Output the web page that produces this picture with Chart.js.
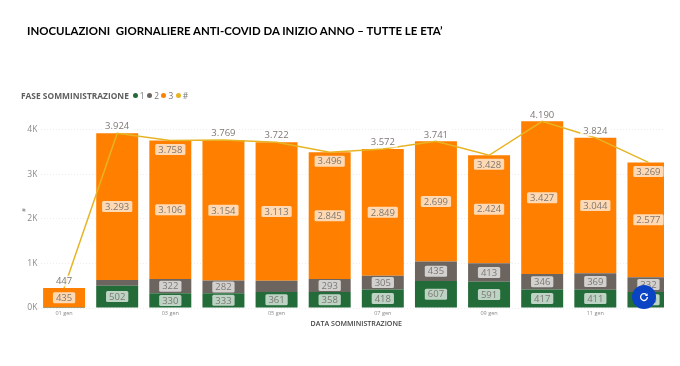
<!DOCTYPE html>
<html>
<head>
<meta charset="utf-8">
<script src="https://cdn.jsdelivr.net/npm/chart.js@4/dist/chart.umd.min.js"></script>
<style>
    html, body { margin: 0; padding: 0; background: #fff; width: 680px; height: 366px; overflow: hidden; }
    #title { position: absolute; left: 27px; top: 24px; font: 700 11.45px Lato, sans-serif; color: #000; white-space: pre; }
    #legend { position: absolute; left: 21px; top: 90px; font: 8.4px "Open Sans", sans-serif; color: #777; white-space: nowrap; }
    #legend b { color: #5f5f5f; margin-right: 4px; }
    #legend span { margin-right: 2.5px; }
    #legend i { display: inline-block; width: 5px; height: 5px; border-radius: 50%; margin-right: 2px; vertical-align: 1px; }
    #wrap { position: absolute; left: 0; top: 0; width: 664px; height: 366px; overflow: hidden; }
    #wrap canvas { filter: blur(0.35px); }
    #refresh { position: absolute; left: 632px; top: 285px; width: 24px; height: 24px; border-radius: 50%; background: #0a43c4; }
</style>
</head>
<body>
<div id="wrap"><div style="width:675px;height:366px"><canvas id="chart" width="675" height="366"></canvas></div></div>
<div id="title">INOCULAZIONI  GIORNALIERE ANTI-COVID DA INIZIO ANNO – TUTTE LE ETA’</div>
<div id="legend"></div>
<div id="refresh">
    <svg width="24" height="24" viewBox="0 0 24 24">
        <path d="M14.6 9.9 A3.4 3.4 0 1 0 15.4 12" fill="none" stroke="#fff" stroke-width="1.3"/>
        <path d="M15.6 8.2 V11 H12.8 Z" fill="#fff"/>
    </svg>
</div>

<script>
const days = ['01 gen', '02 gen', '03 gen', '04 gen', '05 gen', '06 gen', '07 gen', '08 gen', '09 gen', '10 gen', '11 gen', '12 gen'];
const fase1 = [5, 502, 330, 333, 361, 358, 418, 607, 591, 417, 411, 360];
const fase2 = [7, 129, 322, 282, 248, 293, 305, 435, 413, 346, 369, 332];
const fase3 = [435, 3293, 3106, 3154, 3113, 2845, 2849, 2699, 2424, 3427, 3044, 2577];
const totale = [447, 3924, 3758, 3769, 3722, 3496, 3572, 3741, 3428, 4190, 3824, 3269];
const yTicks = [0, 1000, 2000, 3000, 4000];

const green = '#236b38';
const grey = '#6c655f';
const orange = '#ff8000';
const yellow = '#e6b423';

// Same dot legend as the report, title first
const legend = document.getElementById('legend');
legend.innerHTML = '<b>FASE SOMMINISTRAZIONE</b>' +
    [['1', green], ['2', grey], ['3', orange], ['#', yellow]]
        .map(l => `<span><i style="background:${l[1]}"></i>${l[0]}</span>`).join('');

function formatIt(v) {
    return String(v).replace(/\B(?=(\d{3})+$)/g, '.');
}

function pill(ctx, text, x, y, bg) {
    ctx.font = '9.5px "Open Sans", sans-serif';
    ctx.textAlign = 'center';
    ctx.textBaseline = 'middle';
    const w = ctx.measureText(text).width + 6;
    ctx.fillStyle = bg;
    ctx.beginPath();
    ctx.roundRect(x - w / 2, y - 5.5, w, 11, 1.5);
    ctx.fill();
    ctx.fillStyle = '#7d7873';
    ctx.fillText(text, x, y + 0.5);
}

// Chart.js has no data labels of its own
const labelPlugin = {
    id: 'labels',
    afterDatasetsDraw(chart) {
        const ctx = chart.ctx;
        ctx.save();
        [0, 1, 2].forEach(d => {
            chart.getDatasetMeta(d).data.forEach((bar, i) => {
                const value = chart.data.datasets[d].data[i];
                if (value < 250) return; // segment too thin for a label
                pill(ctx, formatIt(value), bar.x, (bar.y + bar.base) / 2, 'rgba(255,255,255,0.7)');
            });
        });
        chart.getDatasetMeta(3).data.forEach((pt, i) => {
            // dips get the total inside the bar, everything else goes above
            const dip = i > 0 && totale[i] < totale[i - 1] && (i === totale.length - 1 || totale[i] <= totale[i + 1]);
            if (dip) pill(ctx, formatIt(totale[i]), pt.x, pt.y + 9, 'rgba(255,255,255,0.7)');
            else pill(ctx, formatIt(totale[i]), pt.x, pt.y - 7, 'rgba(255,255,255,0.8)');
        });
        ctx.restore();
    }
};

new Chart(document.getElementById('chart'), {
    data: {
        labels: days,
        datasets: [
            { type: 'bar', label: '1', data: fase1, backgroundColor: green, order: 1 },
            { type: 'bar', label: '2', data: fase2, backgroundColor: grey, order: 1 },
            { type: 'bar', label: '3', data: fase3, backgroundColor: orange, order: 1 },
            { type: 'line', label: '#', data: totale, borderColor: yellow, borderWidth: 1.5, pointRadius: 0, tension: 0, order: 0 }
        ]
    },
    options: {
        responsive: false,
        animation: false,
        layout: { padding: { top: 112, bottom: 38, left: 21, right: 0 } },
        categoryPercentage: 1,
        barPercentage: 0.79,
        plugins: { legend: { display: false }, tooltip: { enabled: false } },
        scales: {
            x: {
                stacked: true,
                grid: { display: false, tickLength: 2 },
                border: { display: false },
                afterFit(scale) { scale.height = 20; },
                ticks: {
                    autoSkip: false,
                    maxRotation: 0,
                    padding: 0,
                    color: '#8a8a8a',
                    font: { size: 5.5, family: '"Open Sans", sans-serif' },
                    callback(v, i) { return i % 2 === 0 ? days[i] : ''; }
                },
                title: {
                    display: true,
                    text: 'DATA SOMMINISTRAZIONE',
                    color: '#444',
                    padding: 0,
                    font: { size: 7.1, weight: '600', family: '"Open Sans", sans-serif' }
                }
            },
            y: {
                stacked: true,
                min: 0,
                max: 4400,
                afterFit(scale) { scale.width = 16.5; },
                afterBuildTicks(scale) { scale.ticks = yTicks.map(v => ({ value: v })); },
                grid: { color: '#eeeeee', lineWidth: 1, drawTicks: false },
                border: { display: false, dash: [1, 2] },
                ticks: {
                    padding: 0,
                    color: '#8a8a8a',
                    font: { size: 8.6, family: '"Open Sans", sans-serif' },
                    callback(v) { return (v / 1000) + 'K'; }
                },
                title: {
                    display: true,
                    text: '#',
                    color: '#666',
                    padding: 0,
                    font: { size: 6, family: '"Open Sans", sans-serif' }
                }
            }
        }
    },
    plugins: [labelPlugin]
});
</script>
</body>
</html>
